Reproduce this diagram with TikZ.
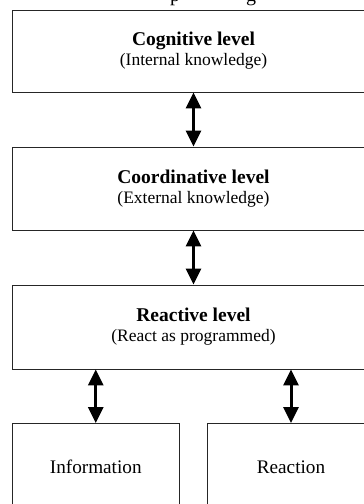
\documentclass[tikz,border=0pt]{standalone}
\usepackage{fontspec}
\setmainfont{Liberation Serif}
\usetikzlibrary{arrows.meta}
\newcommand\lvltitle[1]{{\bfseries\fontsize{19.5}{20}\selectfont #1}}
\begin{document}
\begin{tikzpicture}[x=1pt,y=-1pt,
  lvl/.style={draw=black!85, line width=0.9pt, minimum width=363pt, inner sep=0pt, align=center, font=\fontsize{17.5}{20}\selectfont},
  leaf/.style={draw=black!85, line width=0.9pt, minimum height=87pt, inner sep=0pt, font=\fontsize{19.2}{22}\selectfont},
  frag/.style={anchor=base, inner sep=0pt, font=\fontsize{20}{20}\selectfont},
  dbl/.style={line width=3pt, {Triangle[width=15pt,length=16pt]}-{Triangle[width=15pt,length=16pt]}}]
\useasboundingbox (0,0) rectangle (364,504);
\begin{scope}
\clip (0,0) rectangle (364,504);
\node[frag] (capp) at (175,1) {p};
\node[frag] (capg) at (251,1) {g};
\node[lvl, minimum height=82pt] (cog) at (193.5,51) {\lvltitle{Cognitive level}\\(Internal knowledge)};
\node[lvl, minimum height=83pt] (crd) at (193.5,188.5) {\lvltitle{Coordinative level}\\(External knowledge)};
\node[lvl, minimum height=84pt] (rct) at (193.5,327) {\lvltitle{Reactive level}\\(React as programmed)};
\node[leaf, minimum width=167.5pt] (info) at (95.75,467) {Information};
\node[leaf, minimum width=168pt] (reac) at (291,467) {Reaction};
\draw[dbl] (cog.south) -- (crd.north);
\draw[dbl] (crd.south) -- (rct.north);
\draw[dbl] (info.north |- rct.south) -- (info.north);
\draw[dbl] (reac.north |- rct.south) -- (reac.north);
\end{scope}
\end{tikzpicture}
\end{document}
